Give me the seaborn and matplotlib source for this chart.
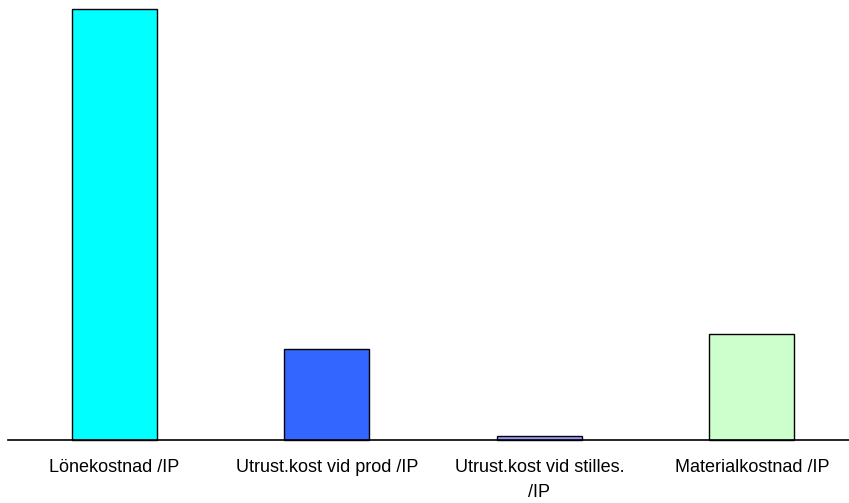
import matplotlib
matplotlib.use("Agg")
import matplotlib.pyplot as plt
import seaborn as sns
import pandas as pd

categories = ["Lönekostnad /IP", "Utrust.kost vid prod /IP",
              "Utrust.kost vid stilles.\n/IP", "Materialkostnad /IP"]
values = [1000, 211, 9, 246]
colors = ["#00FFFF", "#3366FF", "#9999FF", "#CCFFCC"]

df = pd.DataFrame({"kategori": categories, "kostnad": values})

sns.set_theme(style="white")
plt.rcParams["font.family"] = ["Liberation Sans", "DejaVu Sans"]

W, H = 849, 503
fig = plt.figure(figsize=(W / 100, H / 100), dpi=100)
ax = fig.add_axes([8 / W, 1 - 440 / H, 850 / W, 431 / H])

sns.barplot(data=df, x="kategori", y="kostnad", hue="kategori",
            palette=colors, saturation=1, width=0.4, edgecolor="black",
            linewidth=1.0, legend=False, ax=ax)
for p in ax.patches:
    p.set_clip_on(False)

ax.set_xlim(-0.5, 3.5)
ax.set_ylim(0, 1000)
ax.set_xlabel("")
ax.set_ylabel("")
ax.set_yticks([])

for side in ["top", "right", "left"]:
    ax.spines[side].set_visible(False)
ax.spines["bottom"].set_color("black")
ax.spines["bottom"].set_linewidth(1.2)

ax.set_xticks(range(len(categories)))
ax.set_xticklabels(categories, fontsize=13, color="black", linespacing=1.6)
ax.tick_params(axis="x", which="major", length=0, pad=14)
ax.set_xticks([0.5, 1.5, 2.5], minor=True)
ax.tick_params(axis="x", which="minor", length=5, width=0.8,
               color="#555555", direction="out")

fig.savefig("out.png", dpi=100)
